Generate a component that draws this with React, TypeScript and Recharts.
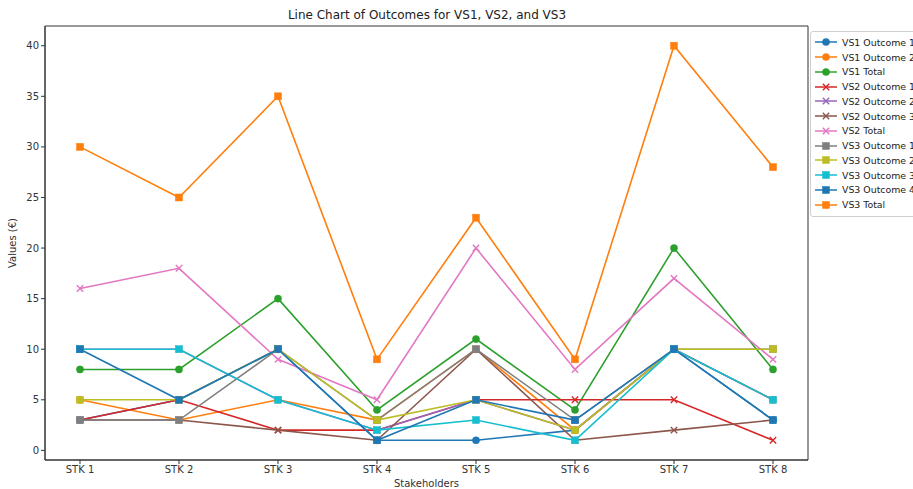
import React from 'react';
import { LineChart, Line, XAxis, YAxis, Label, CartesianGrid } from 'recharts';

const categories = ['STK 1', 'STK 2', 'STK 3', 'STK 4', 'STK 5', 'STK 6', 'STK 7', 'STK 8'];
const yTicks = [0, 5, 10, 15, 20, 25, 30, 35, 40];

const vs1Outcome1 = [3, 5, 10, 1, 1, 2, 10, 3];
const vs1Outcome2 = [5, 3, 5, 3, 10, 2, 10, 5];
const vs1Total = [8, 8, 15, 4, 11, 4, 20, 8];
const vs2Outcome1 = [3, 5, 2, 2, 5, 5, 5, 1];
const vs2Outcome2 = [10, 10, 5, 2, 5, 2, 10, 5];
const vs2Outcome3 = [3, 3, 2, 1, 10, 1, 2, 3];
const vs2Total = [16, 18, 9, 5, 20, 8, 17, 9];
const vs3Outcome1 = [3, 3, 10, 3, 10, 3, 10, 10];
const vs3Outcome2 = [5, 5, 10, 3, 5, 2, 10, 10];
const vs3Outcome3 = [10, 10, 5, 2, 3, 1, 10, 5];
const vs3Outcome4 = [10, 5, 10, 1, 5, 3, 10, 3];
const vs3Total = [30, 25, 35, 9, 23, 9, 40, 28];

type Marker = 'circle' | 'x' | 'square';
const seriesList: { name: string; values: number[]; color: string; marker: Marker }[] = [
  { name: 'VS1 Outcome 1', values: vs1Outcome1, color: '#1f77b4', marker: 'circle' },
  { name: 'VS1 Outcome 2', values: vs1Outcome2, color: '#ff7f0e', marker: 'circle' },
  { name: 'VS1 Total', values: vs1Total, color: '#2ca02c', marker: 'circle' },
  { name: 'VS2 Outcome 1', values: vs2Outcome1, color: '#d62728', marker: 'x' },
  { name: 'VS2 Outcome 2', values: vs2Outcome2, color: '#9467bd', marker: 'x' },
  { name: 'VS2 Outcome 3', values: vs2Outcome3, color: '#8c564b', marker: 'x' },
  { name: 'VS2 Total', values: vs2Total, color: '#e377c2', marker: 'x' },
  { name: 'VS3 Outcome 1', values: vs3Outcome1, color: '#7f7f7f', marker: 'square' },
  { name: 'VS3 Outcome 2', values: vs3Outcome2, color: '#bcbd22', marker: 'square' },
  { name: 'VS3 Outcome 3', values: vs3Outcome3, color: '#17becf', marker: 'square' },
  { name: 'VS3 Outcome 4', values: vs3Outcome4, color: '#1f77b4', marker: 'square' },
  { name: 'VS3 Total', values: vs3Total, color: '#ff7f0e', marker: 'square' },
];

const data = categories.map((stk, i) => {
  const row: Record<string, string | number> = { stk };
  seriesList.forEach((s, j) => {
    row['s' + j] = s.values[i];
  });
  return row;
});

function markerShape(marker: Marker, color: string, cx: number, cy: number, key?: string) {
  if (marker === 'circle') {
    return <circle key={key} cx={cx} cy={cy} r={3.6} fill={color} stroke={color} strokeWidth={0.5} />;
  }
  if (marker === 'square') {
    return <rect key={key} x={cx - 3.5} y={cy - 3.5} width={7} height={7} fill={color} stroke={color} strokeWidth={0.5} />;
  }
  const d = 3.2;
  return (
    <path
      key={key}
      d={`M${cx - d},${cy - d}L${cx + d},${cy + d}M${cx - d},${cy + d}L${cx + d},${cy - d}`}
      stroke={color}
      strokeWidth={1.4}
      fill="none"
    />
  );
}

const makeDot = (marker: Marker, color: string) => (props: any) => {
  const { cx, cy, index } = props;
  if (cx == null || cy == null) return <g key={'e' + index} />;
  return markerShape(marker, color, cx, cy, 'd' + index);
};

const LegendBox = () => (
  <div
    style={{
      position: 'absolute',
      left: 810,
      top: 31,
      border: '1px solid #d0d0d0',
      borderRadius: 3,
      background: '#fff',
      padding: '3px 0 4px 3px',
      width: 140,
      fontFamily: 'DejaVu Sans, sans-serif',
      fontSize: 9.4,
      color: '#222',
    }}
  >
    {seriesList.map((s) => (
      <div key={s.name} style={{ display: 'flex', alignItems: 'center', height: 14.76, whiteSpace: 'nowrap' }}>
        <svg width={24} height={12} style={{ marginRight: 4, flex: 'none' }}>
          <line x1={1} y1={6} x2={23} y2={6} stroke={s.color} strokeWidth={1.5} />
          {markerShape(s.marker, s.color, 12, 6)}
        </svg>
        <span>{s.name}</span>
      </div>
    ))}
  </div>
);

export default function App() {
  const axisColor = '#333';
  const tickStyle = { fontSize: 10, fill: '#333', fontFamily: 'DejaVu Sans, sans-serif' };
  return (
    <div style={{ position: 'absolute', left: 0, top: 0, width: 913, height: 489, overflow: 'hidden', background: '#fff' }}>
      <div
        style={{
          position: 'absolute',
          left: 0,
          width: 854,
          top: 8,
          textAlign: 'center',
          fontFamily: 'DejaVu Sans, sans-serif',
          fontSize: 12,
          lineHeight: '14px',
          color: '#222',
          zIndex: 2,
        }}
      >
        Line Chart of Outcomes for VS1, VS2, and VS3
      </div>
      <LineChart width={913} height={489} data={data} margin={{ top: 26, right: 105, bottom: 0, left: 0 }}>
        <CartesianGrid
          stroke={axisColor}
          strokeWidth={1}
          horizontalCoordinatesGenerator={(p: any) => [p.offset.top, p.offset.top + p.offset.height]}
          verticalCoordinatesGenerator={(p: any) => [p.offset.left, p.offset.left + p.offset.width]}
        />
        <XAxis
          dataKey="stk"
          padding={{ left: 35, right: 35 }}
          interval={0}
          tickSize={4}
          tickMargin={2}
          height={29}
          stroke={axisColor}
          tick={tickStyle}
        >
          <Label value="Stakeholders" position="insideBottom" offset={2} style={{ fontSize: 10, fill: '#333', fontFamily: 'DejaVu Sans, sans-serif' }} />
        </XAxis>
        <YAxis
          type="number"
          domain={[-0.95, 41.95]}
          ticks={yTicks}
          allowDataOverflow
          width={45}
          tickSize={4}
          tickMargin={2}
          stroke={axisColor}
          tick={tickStyle}
        >
          <Label
            value="Values (€)"
            angle={-90}
            position="insideLeft"
            offset={12}
            style={{ textAnchor: 'middle', fontSize: 10, fill: '#333', fontFamily: 'DejaVu Sans, sans-serif' }}
          />
        </YAxis>
        {seriesList.map((s, j) => (
          <Line
            key={s.name}
            type="linear"
            dataKey={'s' + j}
            name={s.name}
            stroke={s.color}
            strokeWidth={1.6}
            dot={makeDot(s.marker, s.color)}
            activeDot={false}
            isAnimationActive={false}
          />
        ))}
      </LineChart>
      <LegendBox />
    </div>
  );
}
